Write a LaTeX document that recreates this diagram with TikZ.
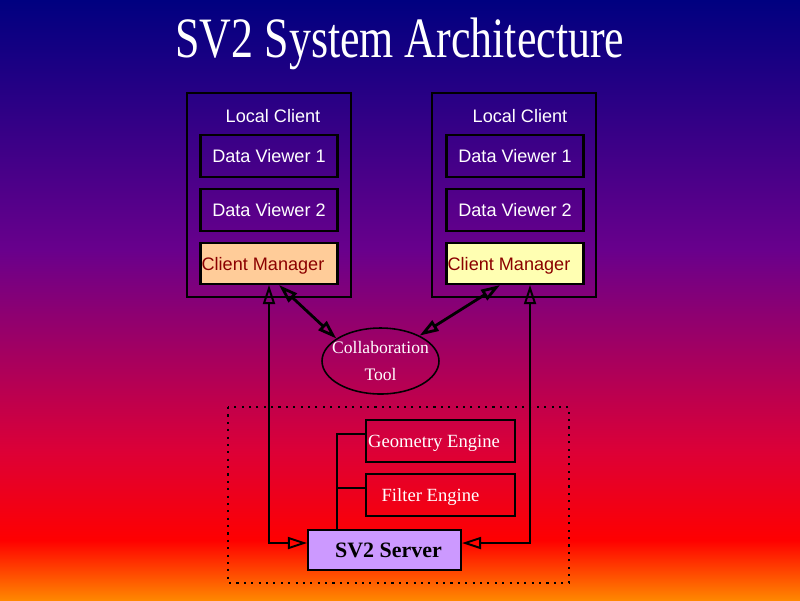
\documentclass[tikz,border=0pt]{standalone}
\usepackage{graphicx}
\usepackage{fontspec}
\setmainfont{Liberation Serif}
\setsansfont{Liberation Sans}
\usetikzlibrary{arrows.meta,shapes.geometric,calc}
\definecolor{bgnavy}{RGB}{0,0,128}
\definecolor{bgpurple}{RGB}{105,0,140}
\definecolor{bgcrimson}{RGB}{220,0,55}
\definecolor{bgred}{RGB}{255,0,0}
\definecolor{bgorange}{RGB}{255,135,0}
\definecolor{managerpeach}{RGB}{255,204,153}
\definecolor{manageryellow}{RGB}{255,255,178}
\definecolor{serverlilac}{RGB}{204,153,255}
\definecolor{managertext}{RGB}{139,0,0}
\tikzset{
  box-base/.style={
    rectangle,
    draw=black,
    line width=1.2pt,
    inner sep=0pt,
    text depth=0pt
  },
  box-outer/.style={box-base, minimum width=3.28cm, minimum height=4.08cm},
  box-viewer/.style={
    box-base,
    minimum width=2.74cm,
    minimum height=0.84cm,
    text=white,
    font=\sffamily\fontsize{10.3}{12}\selectfont
  },
  box-manager/.style={box-viewer, minimum height=0.82cm, text=managertext},
  box-engine/.style={
    box-base,
    minimum width=2.98cm,
    minimum height=0.84cm,
    text=white,
    font=\fontsize{10.6}{12}\selectfont
  },
  box-server/.style={
    box-base,
    fill=serverlilac,
    minimum width=3.06cm,
    minimum height=0.8cm,
    font=\bfseries\fontsize{12.5}{14}\selectfont
  },
  label-client/.style={text=white, font=\sffamily\fontsize{10.3}{12}\selectfont},
  heading/.style={text=white, font=\fontsize{25}{30}\selectfont},
  tool/.style={
    ellipse,
    draw=black,
    line width=0.9pt,
    minimum width=2.34cm,
    minimum height=1.32cm,
    inner sep=0pt
  },
  tool-text/.style={text=white, align=center, font=\fontsize{10}{15.6}\selectfont},
  link/.style={draw=black, line width=1.1pt},
  link-thick/.style={draw=black, line width=1.6pt},
  frame-dotted/.style={draw=black, line width=0.8pt, dash pattern=on 1.2pt off 3pt}
}

\begin{document}
\begin{tikzpicture}[x=0.02cm, y=-0.02cm, >={Triangle[open, length=0.38cm, width=0.24cm]}]
  \useasboundingbox (0,0) rectangle (800,600);
  % Background
  \shade[top color=bgnavy, bottom color=bgpurple] (0,0) rectangle (800,251);
  \shade[top color=bgpurple, bottom color=bgcrimson] (0,250) rectangle (800,451);
  \shade[top color=bgcrimson, bottom color=bgred] (0,450) rectangle (800,541);
  \shade[top color=bgred, bottom color=bgorange] (0,540) rectangle (800,600);
  % Title
  \node[heading, anchor=base] (heading) at (400,57) {\scalebox{1}[1.3]{SV2 System Architecture}};
  % Left client
  \node[box-outer] (clientL) at (269,195) {};
  \node[label-client] (labelL) at (273,116) {Local Client};
  \node[box-viewer] (viewL1) at (269,156) {Data Viewer 1};
  \node[box-viewer] (viewL2) at (269,210) {Data Viewer 2};
  \node[box-manager, fill=managerpeach] (managerL) at (269,263.5) {Client Manager\kern0.24cm};
  % Right client
  \node[box-outer] (clientR) at (514,195) {};
  \node[label-client] (labelR) at (520,116) {Local Client};
  \node[box-viewer] (viewR1) at (515,156) {Data Viewer 1};
  \node[box-viewer] (viewR2) at (515,210) {Data Viewer 2};
  \node[box-manager, fill=manageryellow] (managerR) at (515,263.5) {Client Manager\kern0.24cm};
  % Collaboration
  \node[tool] (collab) at (380.5,361) {};
  \node[tool-text] (collabText) at (collab.center) {Collaboration\\Tool};
  % Server side
  \draw[frame-dotted] (228,407) rectangle (569,583);
  \node[box-engine] (geom) at (440.5,441) {Geometry Engine\kern0.26cm};
  \node[box-engine] (filt) at (440.5,495) {Filter Engine\kern0.4cm};
  \node[box-server] (server) at (384.5,550) {\kern0.16cm SV2 Server};
  % Connectors
  \coordinate (trunk) at ([xshift=-0.95cm]server.north);
  \draw[link] (trunk) |- ([yshift=0.14cm]geom.west);
  \draw[link] ([yshift=0.14cm]filt.west) -| (trunk);
  \draw[link, <->] (managerL.south) |- ([yshift=0.14cm]server.west);
  \draw[link, <->] ([xshift=0.3cm]managerR.south) |- ([yshift=0.14cm]server.east);
  \draw[link-thick, <->] ([xshift=0.2cm]managerL.south) -- (collab.153);
  \draw[link-thick, <->] (collab.33) -- ([xshift=-0.3cm]managerR.south);
\end{tikzpicture}
\end{document}
